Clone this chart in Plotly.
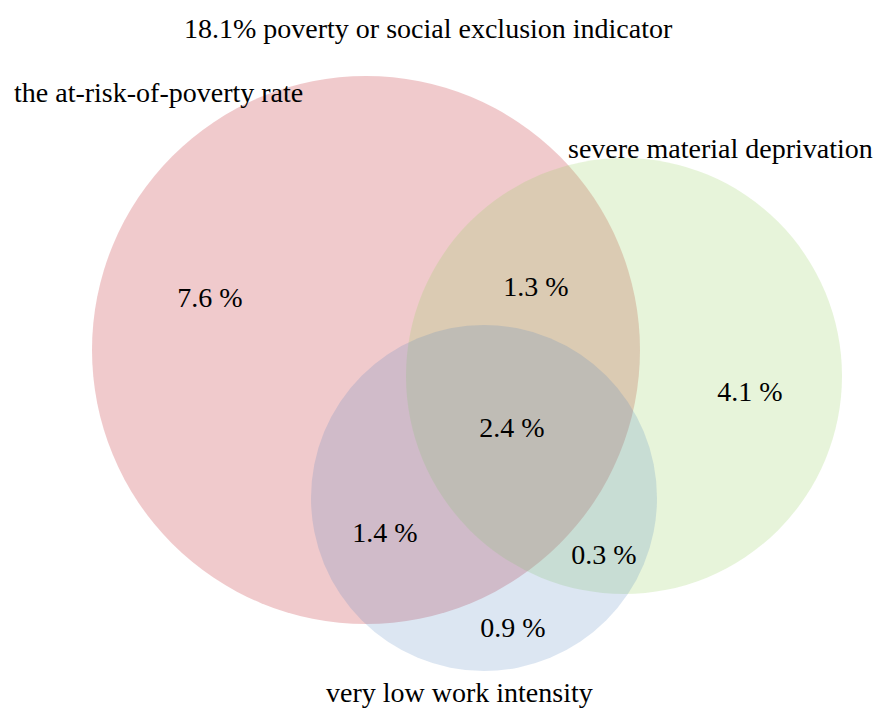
import plotly.graph_objects as go

# ---- data ----
title_text = "18.1% poverty or social exclusion indicator"
set_names = ["the at-risk-of-poverty rate", "severe material deprivation", "very low work intensity"]
region_labels = ["7.6 %", "1.3 %", "4.1 %", "2.4 %", "1.4 %", "0.3 %", "0.9 %"]

# circle geometry (pixel-like coordinates)
circle_cx = [366, 624, 484]
circle_cy = [350, 376, 498]
circle_r = [274, 218, 173]
circle_colors = ["rgba(205,80,85,0.30)", "rgba(155,210,100,0.24)", "rgba(79,129,189,0.20)"]

# label positions
set_label_x = [158, 720, 459]
set_label_y = [92, 148, 692]
region_x = [210, 536, 750, 512, 385, 604, 513]
region_y = [300, 289, 394, 430, 535, 557, 630]

W, H = 881, 709
OFF = 8  # page body margin
FONT = "Liberation Serif, Times New Roman, serif"
FS = 28

fig = go.Figure()

shapes = []
for cx, cy, r, c in zip(circle_cx, circle_cy, circle_r, circle_colors):
    shapes.append(dict(type="circle", xref="x", yref="y",
                       x0=cx - r, x1=cx + r, y0=cy - r, y1=cy + r,
                       fillcolor=c, line=dict(width=0), layer="below"))

fig.add_trace(go.Scatter(x=region_x, y=region_y, mode="text", text=region_labels,
                         textfont=dict(family=FONT, size=FS, color="black"),
                         hoverinfo="skip", showlegend=False))

annotations = [dict(x=428, y=28, xref="x", yref="y", text=title_text, showarrow=False,
                    font=dict(family=FONT, size=FS, color="black"))]
for nm, lx, ly in zip(set_names, set_label_x, set_label_y):
    annotations.append(dict(x=lx, y=ly, xref="x", yref="y", text=nm, showarrow=False,
                            font=dict(family=FONT, size=FS, color="black")))

fig.update_layout(
    width=W, height=H,
    margin=dict(l=0, r=0, t=0, b=0),
    paper_bgcolor="white", plot_bgcolor="white",
    shapes=shapes, annotations=annotations,
    xaxis=dict(range=[OFF, W + OFF], visible=False, fixedrange=True),
    yaxis=dict(range=[H + OFF, OFF], visible=False, fixedrange=True),
    showlegend=False,
)

fig.write_html("out.html")
